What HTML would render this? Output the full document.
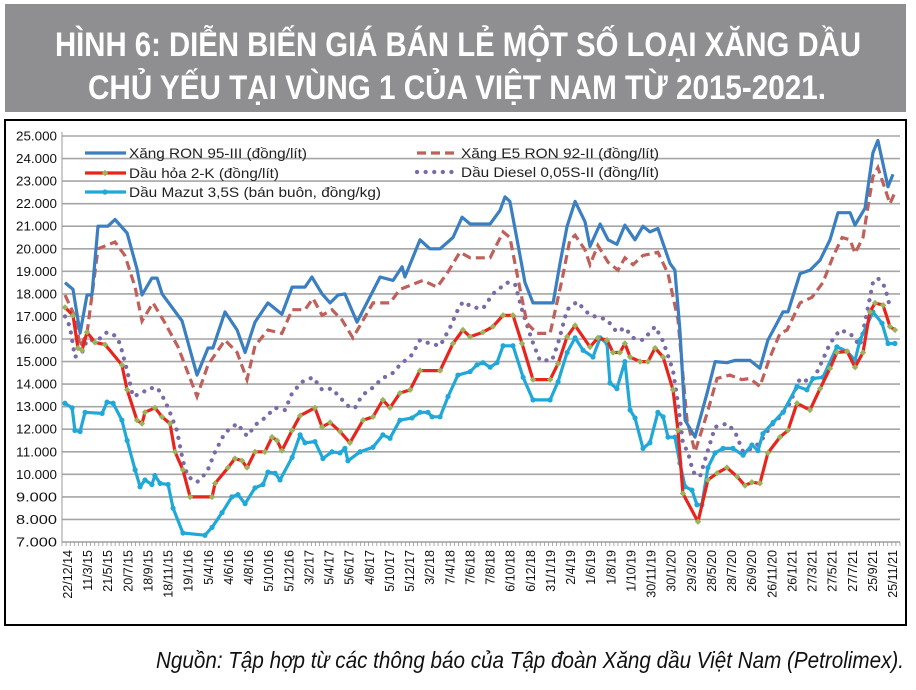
<!DOCTYPE html>
<html><head><meta charset="utf-8"><style>
html,body{margin:0;padding:0;background:#fff;}
svg{display:block;font-family:"Liberation Sans",sans-serif;}
</style></head><body>
<svg id="chart" width="916" height="690" viewBox="0 0 916 690" xmlns="http://www.w3.org/2000/svg">
<rect x="5" y="4" width="901" height="108" fill="#8f8f91"/>
<text x="458" y="56" text-anchor="middle" font-size="34" font-weight="bold" fill="#fff" textLength="806" lengthAdjust="spacingAndGlyphs">HÌNH 6: DIỄN BIẾN GIÁ BÁN LẺ MỘT SỐ LOẠI XĂNG DẦU</text>
<text x="457" y="99" text-anchor="middle" font-size="34" font-weight="bold" fill="#fff" textLength="738" lengthAdjust="spacingAndGlyphs">CHỦ YẾU TẠI VÙNG 1 CỦA VIỆT NAM TỪ 2015-2021.</text>
<rect x="5" y="120" width="901" height="505" fill="#fff" stroke="#000" stroke-width="2"/>
<g id="grid"></g><g id="axes"></g><g id="series"></g>
<g id="legend"></g>
<text x="904" y="668" text-anchor="end" font-size="23" font-style="italic" fill="#111" textLength="748" lengthAdjust="spacingAndGlyphs">Nguồn: Tập hợp từ các thông báo của Tập đoàn Xăng dầu Việt Nam (Petrolimex).</text>
</svg>
<script>
// values in thousand đồng; t = time position (0 = 22/12/14, 30 = 25/11/21)
const yTicks=[7,8,9,10,11,12,13,14,15,16,17,18,19,20,21,22,23,24,25];
const xLabels=["22/12/14","11/3/15","21/5/15","20/7/15","18/9/15","18/11/15","19/1/16","5/4/16","4/6/16","4/8/16","5/10/16","5/12/16","3/2/17","5/4/17","5/6/17","4/8/17","5/10/17","5/12/17","3/2/18","7/4/18","7/6/18","7/8/18","6/10/18","6/12/18","31/1/19","2/4/19","1/6/19","1/8/19","1/10/19","30/11/19","30/1/20","29/3/20","28/5/20","28/7/20","26/9/20","26/11/20","26/1/21","27/3/21","27/5/21","27/7/21","25/9/21","25/11/21"];
const ron95=[[-0.11,18.5],[0.18,18.2],[0.44,16.26],[0.69,17.95],[0.87,17.95],[1.09,21.0],[1.45,21.0],[1.71,21.3],[2.15,20.7],[2.51,19.1],[2.69,17.95],[3.05,18.7],[3.24,18.7],[3.42,18.0],[4.15,16.8],[4.69,14.4],[5.09,15.6],[5.27,15.6],[5.71,17.2],[6.15,16.4],[6.44,15.4],[6.8,16.75],[7.27,17.6],[7.78,17.1],[8.15,18.3],[8.62,18.3],[8.87,18.75],[9.24,18.0],[9.53,17.6],[9.82,17.95],[10.07,18.0],[10.51,16.75],[11.35,18.75],[11.82,18.6],[12.15,19.2],[12.25,18.75],[12.8,20.4],[13.16,20.0],[13.53,20.0],[14.0,20.5],[14.33,21.4],[14.62,21.1],[15.35,21.1],[15.71,21.7],[15.89,22.3],[16.07,22.1],[16.33,20.4],[16.62,18.5],[16.91,17.6],[17.64,17.6],[17.89,19.35],[18.15,21.0],[18.44,22.1],[18.8,21.2],[18.98,20.1],[19.35,21.1],[19.64,20.4],[19.96,20.2],[20.25,21.05],[20.62,20.4],[20.91,21.0],[21.16,20.75],[21.45,20.9],[21.89,19.35],[22.07,19.05],[22.25,16.4],[22.44,12.4],[22.8,11.65],[23.24,13.6],[23.53,15.0],[23.96,14.95],[24.25,15.05],[24.8,15.05],[25.16,14.7],[25.45,15.95],[26.0,17.2],[26.18,17.2],[26.62,18.9],[26.98,19.05],[27.35,19.5],[27.71,20.4],[28.0,21.6],[28.44,21.6],[28.62,21.05],[28.98,21.8],[29.27,24.25],[29.45,24.8],[29.82,22.75],[30.0,23.3]];
const e5=[[-0.11,17.95],[0.25,17.0],[0.44,15.65],[0.69,16.25],[1.09,20.0],[1.71,20.3],[2.07,19.7],[2.44,18.3],[2.69,16.8],[3.09,17.6],[3.53,16.7],[4.0,15.65],[4.69,13.45],[5.09,14.85],[5.71,15.95],[6.15,15.4],[6.51,14.2],[6.8,15.7],[7.27,16.4],[7.78,16.25],[8.15,17.3],[8.62,17.3],[8.91,17.8],[9.24,17.05],[9.6,17.3],[9.96,16.85],[10.36,16.05],[11.09,17.6],[11.71,17.6],[12.07,18.2],[12.91,18.6],[13.42,18.3],[13.78,18.9],[14.25,19.85],[14.62,19.6],[15.35,19.6],[15.82,20.75],[16.07,20.5],[16.44,18.2],[16.69,16.7],[17.05,16.25],[17.53,16.25],[17.96,18.6],[18.25,20.4],[18.44,20.6],[18.8,19.95],[18.98,19.3],[19.27,20.15],[19.64,19.4],[20.0,19.05],[20.25,19.6],[20.55,19.3],[20.91,19.7],[21.45,19.85],[21.82,18.9],[22.18,16.85],[22.51,12.4],[22.8,11.0],[23.24,12.7],[23.6,14.25],[24.07,14.4],[24.51,14.2],[24.8,14.25],[25.16,13.9],[25.53,15.2],[25.89,16.25],[26.15,16.4],[26.62,17.6],[27.05,17.85],[27.45,18.5],[27.82,19.65],[28.15,20.5],[28.44,20.4],[28.62,19.8],[28.91,20.5],[29.27,23.2],[29.45,23.6],[29.89,22.0],[30.07,22.5]];
const kerosene=[[-0.11,17.4],[0.18,17.05],[0.36,15.6],[0.51,15.5],[0.69,16.3],[0.98,15.85],[1.35,15.75],[1.96,14.85],[2.15,13.75],[2.51,12.4],[2.69,12.25],[2.8,12.75],[3.16,12.95],[3.42,12.55],[3.71,12.25],[3.89,11.0],[4.18,10.2],[4.44,9.0],[5.24,9.0],[5.35,9.6],[5.82,10.3],[6.07,10.7],[6.33,10.6],[6.51,10.3],[6.8,11.0],[7.16,11.0],[7.42,11.65],[7.6,11.5],[7.78,11.05],[8.15,11.95],[8.44,12.6],[8.98,12.95],[9.24,12.1],[9.53,12.3],[9.89,11.9],[10.25,11.4],[10.73,12.4],[11.09,12.55],[11.45,13.3],[11.71,12.95],[12.07,13.6],[12.44,13.75],[12.8,14.6],[13.53,14.6],[14.0,15.8],[14.36,16.4],[14.62,16.1],[15.09,16.3],[15.45,16.55],[15.82,17.05],[16.18,17.05],[16.51,15.8],[16.91,14.2],[17.53,14.2],[17.82,14.9],[18.15,16.1],[18.44,16.6],[18.98,15.65],[19.27,16.05],[19.6,15.95],[19.82,15.4],[20.07,15.4],[20.25,15.8],[20.44,15.2],[20.8,15.0],[21.09,15.0],[21.35,15.6],[21.64,15.2],[22.0,13.75],[22.18,11.95],[22.36,9.15],[22.91,7.9],[23.27,9.75],[23.6,10.05],[23.96,10.3],[24.33,9.9],[24.62,9.5],[24.87,9.65],[25.16,9.6],[25.45,10.95],[25.89,11.65],[26.18,11.95],[26.51,13.15],[26.98,12.85],[27.35,13.8],[27.71,14.7],[27.96,15.4],[28.33,15.45],[28.62,14.75],[28.91,15.4],[29.16,17.2],[29.35,17.6],[29.64,17.5],[29.89,16.55],[30.07,16.4]];
const diesel=[[-0.11,17.0],[0.07,16.55],[0.25,15.2],[0.51,15.4],[0.69,15.95],[1.09,15.95],[1.42,16.3],[1.71,16.15],[1.89,15.8],[2.15,14.6],[2.36,13.45],[2.69,13.6],[2.91,13.8],[3.24,13.85],[3.42,13.5],[3.64,12.95],[3.96,11.95],[4.18,10.6],[4.36,9.9],[4.69,9.65],[5.05,10.1],[5.35,11.0],[5.71,11.85],[6.15,12.25],[6.51,11.7],[6.87,12.25],[7.16,12.5],[7.53,12.95],[7.89,12.85],[8.15,13.6],[8.51,14.1],[8.91,14.3],[9.24,13.75],[9.6,13.8],[9.89,13.4],[10.25,12.95],[10.44,12.95],[10.69,13.5],[11.09,13.85],[11.42,14.25],[11.82,14.5],[12.07,14.85],[12.51,15.3],[12.8,15.95],[13.16,15.8],[13.53,15.7],[13.89,16.5],[14.18,17.3],[14.36,17.65],[14.73,17.4],[15.09,17.35],[15.45,18.0],[15.96,18.5],[16.25,18.45],[16.51,17.3],[16.87,15.95],[17.16,15.05],[17.6,15.05],[17.82,15.8],[18.15,17.3],[18.51,17.65],[18.98,17.05],[19.35,16.95],[19.6,16.85],[19.96,16.3],[20.25,16.5],[20.55,16.05],[20.91,15.95],[21.35,16.55],[21.64,15.9],[22.0,14.6],[22.18,13.15],[22.36,11.4],[22.55,10.95],[22.73,10.1],[22.98,9.9],[23.24,10.95],[23.53,12.1],[23.96,12.25],[24.25,11.9],[24.55,11.0],[24.87,11.15],[25.16,11.4],[25.53,12.1],[25.89,12.55],[26.25,13.15],[26.62,14.25],[26.98,14.1],[27.27,14.6],[27.71,15.8],[28.07,16.4],[28.44,16.25],[28.8,15.7],[29.09,17.4],[29.27,18.5],[29.45,18.7],[29.71,18.3],[29.89,17.4]];
const mazut=[[-0.11,13.15],[0.15,12.95],[0.25,11.95],[0.44,11.9],[0.62,12.75],[1.24,12.7],[1.42,13.2],[1.64,13.15],[1.96,12.4],[2.15,11.5],[2.44,10.2],[2.62,9.45],[2.8,9.75],[3.05,9.55],[3.16,9.95],[3.35,9.6],[3.64,9.55],[3.82,8.5],[4.18,7.4],[4.98,7.3],[5.24,7.65],[5.6,8.3],[5.96,9.0],[6.18,9.1],[6.44,8.7],[6.8,9.4],[7.09,9.55],[7.27,10.1],[7.53,10.05],[7.71,9.75],[8.15,10.75],[8.44,11.75],[8.62,11.4],[8.98,11.45],[9.27,10.7],[9.6,11.0],[9.89,10.95],[10.07,11.15],[10.18,10.6],[10.62,11.0],[11.09,11.2],[11.45,11.75],[11.71,11.6],[12.07,12.4],[12.51,12.5],[12.8,12.75],[13.09,12.75],[13.24,12.55],[13.53,12.55],[13.82,13.45],[14.18,14.4],[14.62,14.55],[14.87,14.85],[15.09,14.95],[15.35,14.75],[15.6,14.95],[15.82,15.7],[16.18,15.7],[16.55,14.3],[16.91,13.3],[17.53,13.3],[17.82,14.1],[18.15,15.4],[18.44,16.05],[18.73,15.5],[19.09,15.2],[19.35,16.05],[19.6,15.8],[19.71,14.05],[19.96,13.8],[20.25,15.0],[20.44,12.85],[20.62,12.5],[20.91,11.15],[21.16,11.4],[21.45,12.75],[21.64,12.55],[21.82,11.65],[22.07,11.65],[22.25,10.5],[22.44,9.45],[22.69,9.3],[22.87,8.65],[23.05,8.65],[23.27,10.3],[23.53,10.95],[23.82,11.15],[24.18,11.15],[24.55,10.85],[24.87,11.3],[25.09,11.05],[25.27,11.8],[25.64,12.3],[26.0,12.75],[26.51,13.9],[26.87,13.75],[27.09,14.25],[27.45,14.3],[27.96,15.65],[28.33,15.45],[28.62,15.05],[28.8,15.95],[29.27,17.2],[29.6,16.7],[29.82,15.8],[30.07,15.8]];

const NS="http://www.w3.org/2000/svg";
const PX0=68,PX1=893,TMAX=30,PY0=136,PY1=542,VMIN=7,VMAX=25,AXX=62;
function xS(t){return PX0+t*(PX1-PX0)/TMAX;}
function yS(v){return PY1-(v-VMIN)*(PY1-PY0)/(VMAX-VMIN);}
function mk(tag,attrs,parent){const e=document.createElementNS(NS,tag);for(const k in attrs)e.setAttribute(k,attrs[k]);parent.appendChild(e);return e;}
const grid=document.getElementById('grid'),axes=document.getElementById('axes'),ser=document.getElementById('series'),leg=document.getElementById('legend');
yTicks.forEach(v=>{
  const l=mk('line',{x1:AXX,x2:900,y1:yS(v),y2:yS(v),stroke:'#a6a6a6','stroke-width':1.6},grid);
  
  
  const tx=mk('text',{x:57,y:yS(v)+4.5,'text-anchor':'end','font-size':12.5,fill:'#111',textLength:41,lengthAdjust:'spacingAndGlyphs'},axes);
  tx.textContent=v.toFixed(3);
  
  
});
const ya=mk('line',{x1:AXX,x2:AXX,y1:PY0-4,y2:PY1,stroke:'#999','stroke-width':1},axes);


const xa=mk('line',{x1:AXX,x2:900,y1:PY1,y2:PY1,stroke:'#999','stroke-width':1},axes);


let td='';for(let i=0;i<=205;i++){const x=AXX+i*(900-AXX)/205;td+=`M${x.toFixed(1)},${PY1}v4`;}
const tk=mk('path',{d:td,stroke:'#999','stroke-width':0.8},axes);


xLabels.forEach((s,i)=>{
  const x=xS(i*TMAX/(xLabels.length-1))+4;
  const tx=mk('text',{x:0,y:0,transform:`translate(${x.toFixed(1)},550) rotate(-90)`,'text-anchor':'end','font-size':12.5,fill:'#111'},axes);
  tx.textContent=s;
  
  
});
function pathOf(d){return d.map((p,i)=>(i?'L':'M')+xS(p[0]).toFixed(1)+','+yS(p[1]).toFixed(1)).join('');}
// diesel dots
const dl=mk('path',{d:pathOf(diesel),fill:'none',stroke:'#7b6aa9','stroke-width':4.2,'stroke-linecap':'round','stroke-dasharray':'0.1 8.5'},ser);


const e5l=mk('path',{d:pathOf(e5),fill:'none',stroke:'#c0605a','stroke-width':3.2,'stroke-dasharray':'9 5'},ser);


const mzl=mk('path',{d:pathOf(mazut),fill:'none',stroke:'#1fa8d8','stroke-width':3.2,'stroke-linejoin':'round'},ser);


mazut.forEach(p=>{const c=mk('circle',{cx:xS(p[0]),cy:yS(p[1]),r:2.6,fill:'#1fa8d8'},ser);
  
  });
const kl=mk('path',{d:pathOf(kerosene),fill:'none',stroke:'#e8241c','stroke-width':3.2,'stroke-linejoin':'round'},ser);


kerosene.forEach(p=>{const x=xS(p[0]),y=yS(p[1]);const c=mk('path',{d:`M${x},${y-3.2}L${x+3.2},${y}L${x},${y+3.2}L${x-3.2},${y}Z`,fill:'#9bb35a'},ser);
  
  });
const rl=mk('path',{d:pathOf(ron95),fill:'none',stroke:'#3a7fc2','stroke-width':3.2,'stroke-linejoin':'round'},ser);


// legend
const legItems=[
 {x:85,y:153,name:'legend-ron95',label:'Xăng  RON 95-III  (đồng/lít)',w:178,stroke:'#3a7fc2',dash:null},
 {x:85,y:173,name:'legend-kerosene',label:'Dầu hỏa 2-K (đồng/lít)',w:150,stroke:'#e8241c',dash:null,marker:'#9bb35a'},
 {x:85,y:192,name:'legend-mazut',label:'Dầu Mazut 3,5S (bán buôn, đồng/kg)',w:252,stroke:'#1fa8d8',dash:null,dot:'#1fa8d8'},
 {x:417,y:153,name:'legend-e5',label:'Xăng  E5 RON 92-II  (đồng/lít)',w:198,stroke:'#c0605a',dash:'9 5'},
 {x:417,y:172,name:'legend-diesel',label:'Dầu Diesel 0,05S-II  (đồng/lít)',w:198,stroke:'#7b6aa9',dash:'0.1 8.5',dots:true}];
legItems.forEach(it=>{
  const g=mk('g',{},leg);
  
  
  const a={x1:it.x,x2:it.x+41,y1:it.y,y2:it.y,stroke:it.stroke,'stroke-width':it.dots?4.2:3.2};
  if(it.dash)a['stroke-dasharray']=it.dash;
  if(it.dots)a['stroke-linecap']='round';
  mk('line',a,g);
  if(it.marker){const x=it.x+20,y=it.y;mk('path',{d:`M${x},${y-3.2}L${x+3.2},${y}L${x},${y+3.2}L${x-3.2},${y}Z`,fill:it.marker},g);}
  if(it.dot)mk('circle',{cx:it.x+20,cy:it.y,r:2.6,fill:it.dot},g);
  const t=mk('text',{x:it.x+44,y:it.y+5,'font-size':14,fill:'#222',textLength:it.w,lengthAdjust:'spacingAndGlyphs'},g);
  t.textContent=it.label;
});
</script>
</body></html>
